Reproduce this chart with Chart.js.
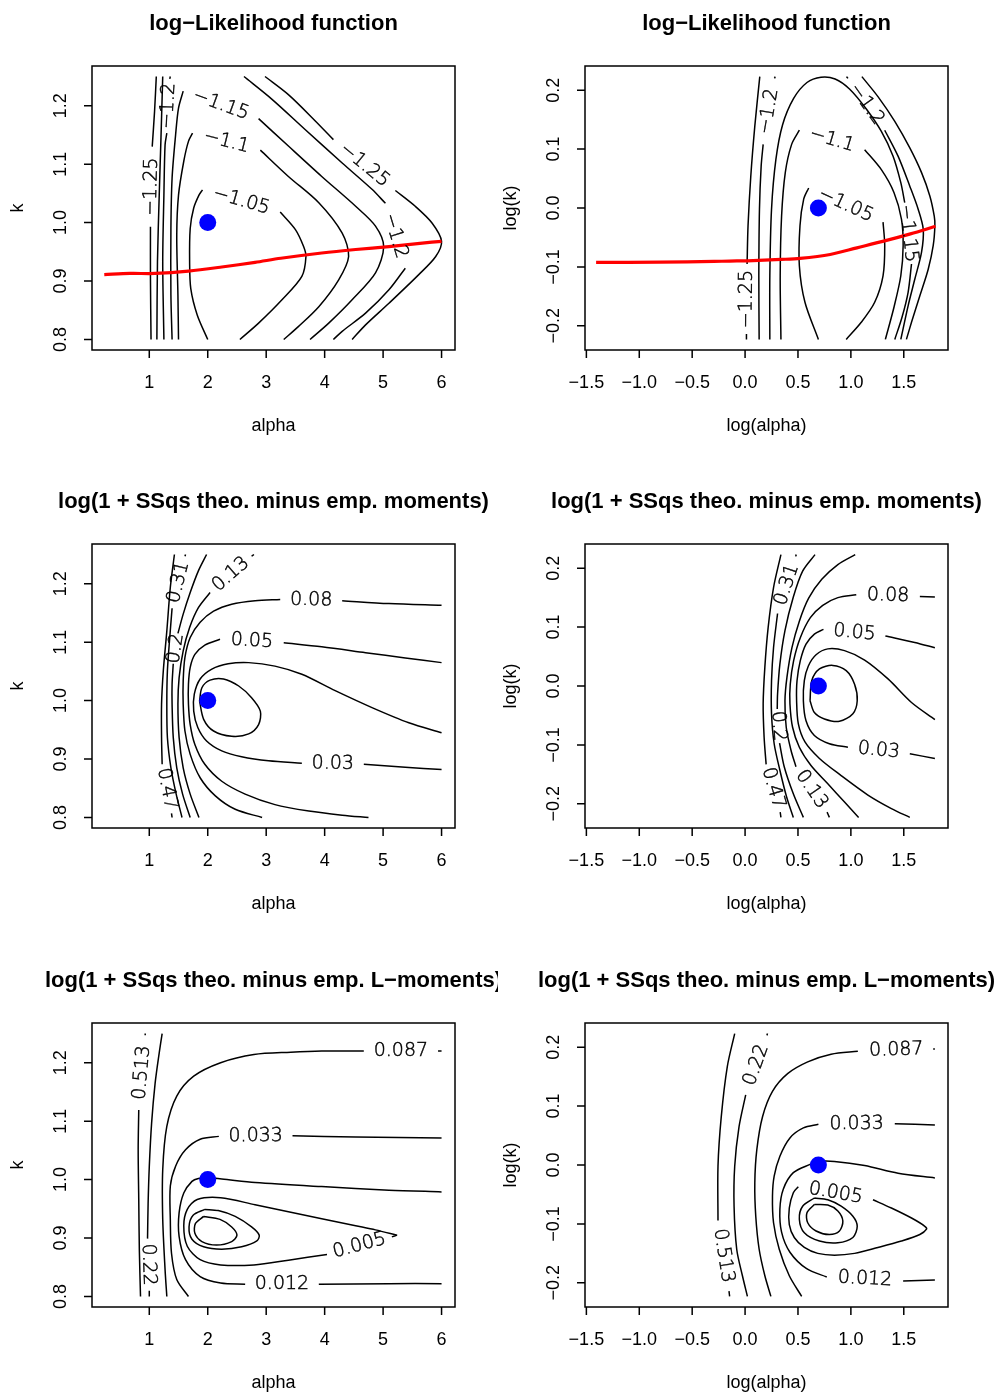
<!DOCTYPE html>
<html>
<head>
<meta charset="utf-8">
<script src="https://cdn.jsdelivr.net/npm/chart.js@4.4.1/dist/chart.umd.min.js"></script>
<style>
  html, body { margin: 0; padding: 0; background: #fff; overflow: hidden; }
  #wrap { position: relative; width: 996px; height: 1394px; }
  #wrap canvas { position: absolute; }
</style>
</head>
<body>
<div id="wrap"></div>
<script>
// axis ticks
const alphaTicks = [1, 2, 3, 4, 5, 6];
const kTicks = [0.8, 0.9, 1.0, 1.1, 1.2];
const logAlphaTicks = [-1.5, -1.0, -0.5, 0.0, 0.5, 1.0, 1.5];
const logKTicks = [-0.2, -0.1, 0.0, 0.1, 0.2];

// starting value (blue dot)
const startAlpha = 2, startK = 1;
const startLogAlpha = 0.693, startLogK = 0;

// profile curve (red)
const redAlpha = [0.23, 0.67, 1.10, 1.67, 2.24, 2.81, 3.25, 3.95, 4.53, 5.10, 5.67, 6.00];
const redK = [0.911, 0.913, 0.913, 0.917, 0.924, 0.932, 0.939, 0.948, 0.954, 0.959, 0.965, 0.968];
const redLogAlpha = [-1.408, -0.80, -0.294, -0.146, 0.022, 0.339, 0.519, 0.804, 1.057, 1.310, 1.563, 1.80];
const redLogK = [-0.0924, -0.092, -0.0907, -0.090, -0.0896, -0.0873, -0.0856, -0.0789, -0.0676, -0.0563, -0.0439, -0.031];

// contour lines: null marks where the level label sits
const llLevels = ['−1.25', '', '−1.2', '−1.15', '−1.1', '−1.05', '−1.2', '−1.25'];
const llLines = [
  [[1.03,0.80],[1.02,0.905],[1.02,0.993],null,[1.05,1.130],[1.09,1.190],[1.12,1.25]],
  [[1.13,0.80],[1.14,0.933],[1.17,1.047],[1.20,1.145],[1.23,1.25]],
  [[1.25,0.80],[1.23,0.933],[1.25,1.047],[1.27,1.133],[1.30,1.153],null,[1.35,1.246],[1.36,1.25]],
  [[1.39,0.80],[1.37,0.876],[1.37,0.990],[1.39,1.076],[1.45,1.150],[1.50,1.196],[1.58,1.225],null,[2.87,1.178],[3.38,1.131],[3.95,1.079],[4.53,1.028],[4.87,0.994],[5.01,0.959],[4.87,0.914],[4.47,0.868],[4.07,0.828],[3.75,0.80]],
  [[1.50,0.80],[1.49,0.876],[1.47,0.979],[1.50,1.047],[1.59,1.105],[1.67,1.139],[1.74,1.153],null,[2.90,1.124],[3.38,1.079],[3.90,1.034],[4.30,0.982],[4.41,0.942],[4.24,0.902],[3.90,0.856],[3.55,0.822],[3.30,0.80]],
  [[2.00,0.80],[1.82,0.842],[1.71,0.887],[1.69,0.933],[1.70,0.990],[1.76,1.025],[1.85,1.047],[1.91,1.056],null,[3.24,1.018],[3.50,0.988],[3.64,0.959],[3.68,0.942],[3.61,0.908],[3.27,0.868],[2.87,0.828],[2.55,0.80]],
  [[2.62,1.25],[3.10,1.211],[3.67,1.159],[4.30,1.102],[4.81,1.057],[5.04,1.033],null,[5.38,0.922],[5.10,0.885],[4.70,0.845],[4.30,0.814],[4.15,0.80]],
  [[2.98,1.25],[3.38,1.219],[3.84,1.174],[4.15,1.142],null,[5.21,1.055],[5.55,1.028],[5.84,0.999],[6.0,0.968],[5.90,0.942],[5.61,0.911],[5.10,0.862],[4.70,0.825],[4.47,0.80]]
];

const llLogLevels = ['−1.25', '−1.2', '−1.15', '−1.1', '−1.05', '−1.2', ''];
const llLogLines = [
  [[0.139,0.223],[0.092,0.139],[0.054,0.054],[0.028,-0.030],[0.019,-0.095],null,[0.013,-0.214],[0.013,-0.223]],
  [[0.133,-0.223],[0.130,-0.115],[0.136,-0.002],[0.152,0.071],[0.171,0.108],null,[0.278,0.220],[0.285,0.223]],
  [[0.234,-0.223],[0.234,-0.115],[0.250,-0.002],[0.291,0.082],[0.354,0.141],[0.459,0.186],[0.585,0.213],[0.718,0.222],[0.851,0.219],[0.987,0.202],[1.146,0.168],[1.288,0.130],[1.399,0.088],[1.472,0.043],[1.509,0.009],null,[1.573,-0.095],[1.541,-0.143],[1.484,-0.185],[1.415,-0.223]],
  [[0.339,-0.223],[0.332,-0.115],[0.345,-0.014],[0.380,0.060],[0.440,0.108],[0.513,0.132],null,[1.130,0.099],[1.288,0.065],[1.408,0.026],[1.478,-0.019],[1.494,-0.064],[1.472,-0.115],[1.408,-0.168],[1.326,-0.223]],
  [[0.693,-0.223],[0.566,-0.160],[0.513,-0.098],[0.519,-0.030],[0.554,0.015],[0.601,0.034],null,[1.304,-0.024],[1.320,-0.064],[1.304,-0.115],[1.225,-0.160],[1.098,-0.194],[0.956,-0.223]],
  [[0.959,0.223],[0.972,0.220],null,[1.320,0.132],[1.446,0.088],[1.557,0.037],[1.636,-0.002],[1.684,-0.036],[1.668,-0.075],[1.604,-0.121],[1.541,-0.166],[1.472,-0.223]],
  [[1.104,0.223],[1.256,0.189],[1.415,0.147],[1.557,0.102],[1.668,0.060],[1.747,0.020],[1.788,-0.014],[1.794,-0.030],[1.778,-0.064],[1.731,-0.104],[1.652,-0.149],[1.573,-0.194],[1.525,-0.223]]
];

const momLevels = ['0.47', '0.31', '0.2', '0.13', '0.08', '0.05', '0.03', ''];
const momLines = [
  [[1.43,1.25],[1.36,1.194],[1.30,1.119],[1.24,1.051],[1.21,0.994],[1.21,0.937],[1.22,0.891],null,[1.38,0.807],[1.39,0.80]],
  [[1.62,1.25],[1.61,1.247],null,[1.39,1.158],[1.35,1.108],[1.31,1.051],[1.30,0.994],[1.31,0.937],[1.37,0.885],[1.46,0.840],[1.56,0.80]],
  [[1.98,1.25],[1.84,1.222],[1.70,1.185],[1.58,1.148],[1.49,1.115],null,[1.41,1.063],[1.39,1.028],[1.39,0.994],[1.41,0.937],[1.47,0.885],[1.57,0.840],[1.70,0.80]],
  [[2.79,1.25],[2.75,1.247],null,[2.04,1.185],[1.84,1.159],[1.69,1.125],[1.58,1.085],[1.51,1.039],[1.49,0.994],[1.51,0.937],[1.58,0.885],[1.70,0.840],[1.85,0.80]],
  [[6.0,1.163],[5.10,1.166],[4.30,1.171],null,[3.24,1.173],[2.81,1.171],[2.41,1.165],[2.10,1.153],[1.87,1.134],[1.70,1.108],[1.61,1.074],[1.58,1.034],[1.58,0.994],[1.61,0.948],[1.70,0.908],[1.87,0.868],[2.13,0.837],[2.47,0.814],[2.93,0.80]],
  [[6.0,1.065],[5.38,1.073],[4.70,1.082],[3.95,1.092],[3.30,1.099],null,[2.21,1.105],[1.95,1.095],[1.78,1.079],[1.70,1.057],[1.67,1.028],[1.67,0.994],[1.70,0.959],[1.78,0.925],[1.95,0.891],[2.24,0.862],[2.64,0.840],[3.15,0.822],[3.73,0.811],[4.30,0.804],[4.75,0.80]],
  [[6.0,0.945],[5.44,0.962],[4.81,0.988],[4.18,1.017],[3.61,1.045],[3.15,1.059],[2.70,1.065],[2.35,1.063],[2.07,1.054],[1.87,1.037],[1.77,1.011],[1.76,0.982],[1.83,0.954],[1.98,0.931],[2.24,0.914],[2.58,0.904],[3.04,0.897],[3.61,0.893],null,[4.67,0.891],[5.38,0.886],[6.0,0.882]],
  [[1.86,0.999],[1.90,1.022],[2.04,1.035],[2.27,1.037],[2.53,1.025],[2.75,1.005],[2.90,0.982],[2.87,0.959],[2.70,0.943],[2.41,0.939],[2.10,0.948],[1.93,0.968],[1.86,0.999]]
];

const momLogLevels = ['0.47', '0.31', '0.2', '0.13', '0.08', '0.05', '0.03', ''];
const momLogLines = [
  [[0.339,0.223],[0.269,0.167],[0.218,0.099],[0.187,0.032],[0.171,-0.030],[0.180,-0.087],[0.199,-0.133],null,[0.332,-0.214],[0.339,-0.223]],
  [[0.478,0.223],[0.484,0.220],null,[0.307,0.123],[0.269,0.065],[0.250,0.009],[0.250,-0.047],[0.275,-0.098],[0.329,-0.143],[0.392,-0.188],[0.456,-0.223]],
  [[0.661,0.223],[0.544,0.195],[0.456,0.151],[0.377,0.094],[0.329,0.037],[0.307,-0.014],[0.304,-0.039],null,[0.326,-0.097],[0.370,-0.137],[0.456,-0.183],[0.551,-0.223]],
  [[1.041,0.223],[0.877,0.206],[0.725,0.181],[0.601,0.149],[0.513,0.110],[0.443,0.065],[0.396,0.015],[0.377,-0.025],[0.389,-0.070],[0.434,-0.109],[0.481,-0.137],null,[0.775,-0.214],[0.797,-0.223]],
  [[1.794,0.151],[1.652,0.152],null,[1.051,0.155],[0.877,0.150],[0.734,0.137],[0.617,0.116],[0.522,0.082],[0.459,0.043],[0.427,0.003],[0.424,-0.030],[0.449,-0.070],[0.513,-0.104],[0.623,-0.135],[0.782,-0.166],[0.940,-0.197],[1.073,-0.223]],
  [[1.794,0.065],[1.604,0.074],[1.326,0.085],null,[0.741,0.096],[0.655,0.088],[0.576,0.071],[0.522,0.043],[0.491,0.009],[0.487,-0.025],[0.503,-0.064],[0.566,-0.095],[0.703,-0.123],[0.908,-0.152],[1.161,-0.185],[1.383,-0.208],[1.557,-0.223]],
  [[1.794,-0.057],[1.573,-0.028],[1.351,0.012],[1.130,0.044],[0.940,0.060],[0.782,0.063],[0.671,0.053],[0.598,0.034],[0.560,0.009],[0.551,-0.025],[0.576,-0.059],[0.655,-0.084],[0.797,-0.098],[0.972,-0.104],null,[1.557,-0.115],[1.794,-0.123]],
  [[0.614,-0.025],[0.630,0.009],[0.703,0.029],[0.829,0.035],[0.956,0.026],[1.035,0.003],[1.060,-0.025],[1.019,-0.047],[0.892,-0.060],[0.750,-0.056],[0.655,-0.045],[0.614,-0.025]]
];

const lmomLevels = ['0.513', '0.22', '0.087', '0.033', '0.012', '0.005', '', ''];
const lmomLines = [
  [[0.93,1.25],[0.93,1.247],null,[0.82,1.119],[0.81,1.051],[0.82,0.965],[0.83,0.879],[0.85,0.80]],
  [[1.22,1.25],[1.17,1.217],[1.10,1.165],[1.04,1.097],[1.00,1.022],[0.98,0.959],[0.97,0.899],null,[1.00,0.810],[1.00,0.80]],
  [[1.30,0.80],[1.27,0.846],[1.23,0.932],[1.23,1.017],[1.30,1.091],[1.47,1.143],[1.76,1.177],[2.22,1.200],[2.79,1.214],[3.42,1.218],[3.95,1.220],[4.67,1.220],null,[5.94,1.220],[6.0,1.220]],
  [[6.0,1.071],[4.53,1.073],[3.45,1.075],null,[2.19,1.074],[1.87,1.069],[1.62,1.051],[1.45,1.023],[1.36,0.989],[1.36,0.931],[1.38,0.874],[1.47,0.829],[1.67,0.80]],
  [[6.0,0.979],[5.10,0.982],[3.95,0.988],[2.81,0.995],[2.24,1.001],[1.99,1.003],[1.84,1.002],[1.73,0.997],[1.59,0.977],[1.51,0.943],[1.51,0.903],[1.62,0.863],[1.87,0.834],[2.22,0.823],[2.64,0.821],null,[3.90,0.821],[5.10,0.822],[6.0,0.822]],
  [[5.24,0.905],[4.87,0.914],[4.53,0.921],[3.95,0.933],[3.38,0.945],[2.81,0.957],[2.22,0.969],[1.82,0.966],[1.65,0.949],[1.59,0.921],[1.65,0.886],[1.87,0.863],[2.22,0.854],[2.79,0.854],[3.38,0.862],[4.04,0.872],null,[5.15,0.902],[5.24,0.905]],
  [[1.95,0.949],[1.75,0.939],[1.68,0.919],[1.73,0.898],[1.93,0.885],[2.24,0.881],[2.58,0.885],[2.84,0.895],[2.88,0.905],[2.75,0.919],[2.47,0.937],[2.18,0.947],[1.95,0.949]],
  [[1.93,0.937],[1.79,0.925],[1.78,0.908],[1.90,0.894],[2.15,0.888],[2.41,0.894],[2.50,0.905],[2.41,0.919],[2.21,0.932],[1.93,0.937]]
];

const lmomLogLevels = ['0.513', '0.22', '0.087', '0.033', '0.012', '0.005', '', ''];
const lmomLogLines = [
  [[-0.098,0.223],[-0.168,0.167],[-0.225,0.082],[-0.256,-0.002],[-0.256,-0.094],null,[-0.152,-0.214],[-0.146,-0.223]],
  [[0.212,0.223],[0.206,0.220],null,[0.006,0.119],[-0.057,0.065],[-0.098,-0.002],[-0.104,-0.070],[-0.079,-0.143],[-0.025,-0.188],[0.022,-0.223]],
  [[1.778,0.197],[1.794,0.197],null,[1.066,0.193],[0.813,0.188],[0.592,0.175],[0.402,0.155],[0.259,0.125],[0.165,0.082],[0.111,0.026],[0.092,-0.030],[0.101,-0.087],[0.133,-0.143],[0.187,-0.188],[0.244,-0.223]],
  [[1.794,0.068],[1.415,0.070],null,[0.693,0.069],[0.551,0.063],[0.424,0.046],[0.329,0.015],[0.275,-0.019],[0.259,-0.053],[0.269,-0.098],[0.323,-0.143],[0.418,-0.188],[0.535,-0.223]],
  [[1.794,-0.022],[1.446,-0.014],[1.130,-0.001],[0.845,0.006],[0.693,0.006],[0.614,0.001],[0.456,-0.013],[0.361,-0.041],[0.329,-0.075],[0.345,-0.114],[0.424,-0.148],[0.582,-0.176],[0.772,-0.190],null,[1.494,-0.197],[1.794,-0.195]],
  [[1.209,-0.059],[1.383,-0.073],[1.573,-0.090],[1.699,-0.104],[1.715,-0.109],[1.652,-0.118],[1.478,-0.129],[1.256,-0.140],[1.035,-0.150],[0.845,-0.153],[0.687,-0.150],[0.560,-0.140],[0.465,-0.123],[0.418,-0.101],[0.418,-0.073],[0.456,-0.047],[0.503,-0.037],null,[1.209,-0.059]],
  [[0.655,-0.056],[0.544,-0.070],[0.513,-0.092],[0.560,-0.115],[0.703,-0.129],[0.877,-0.132],[1.019,-0.123],[1.060,-0.104],[1.019,-0.087],[0.908,-0.070],[0.782,-0.059],[0.655,-0.056]],
  [[0.655,-0.067],[0.585,-0.081],[0.592,-0.098],[0.671,-0.112],[0.797,-0.118],[0.892,-0.112],[0.924,-0.095],[0.877,-0.078],[0.782,-0.068],[0.655,-0.067]]
];

const titleLL = 'log−Likelihood function';
const titleMom = 'log(1 + SSqs theo. minus emp. moments)';
const titleLmom = 'log(1 + SSqs theo. minus emp. L−moments)';

const alphaRange = [0.02, 6.23], kRange = [0.782, 1.268];
const logAlphaRange = [-1.513, 1.918], logKRange = [-0.241, 0.241];

const panels = [
  { title: titleLL, log: false, levels: llLevels, lines: llLines, red: true },
  { title: titleLL, log: true, levels: llLogLevels, lines: llLogLines, red: true },
  { title: titleMom, log: false, levels: momLevels, lines: momLines },
  { title: titleMom, log: true, levels: momLogLevels, lines: momLogLines },
  { title: titleLmom, log: false, levels: lmomLevels, lines: lmomLines },
  { title: titleLmom, log: true, levels: lmomLogLevels, lines: lmomLogLines }
];

const PANEL_W = 498, PANEL_H = 478;
const ROW_TOP = [0, 478, 957];
const BOX_W = 363, BOX_H = 284, BOX_TOP = 66;
const TICK = 8;
const AXIS_FONT = '18px "Liberation Sans", Arial, sans-serif';
const TITLE_FONT = 'bold 22px "Liberation Sans", Arial, sans-serif';
const LEVEL_FONT = '200 19px "DejaVu Sans", sans-serif';

const fmtTick = (v, dec) => v.toFixed(dec).replace('-', '−');

// R-style frame: box, outward ticks, rotated y labels, titles
function makeFrame(p) {
  return {
    id: 'rFrame',
    afterDraw(chart) {
      const { ctx, chartArea: a, scales: { x, y } } = chart;
      const xt = p.log ? logAlphaTicks : alphaTicks;
      const yt = p.log ? logKTicks : kTicks;
      const xdec = p.log ? 1 : 0;
      ctx.save();
      ctx.strokeStyle = '#000';
      ctx.lineWidth = 1.5;
      ctx.strokeRect(a.left, a.top, a.right - a.left, a.bottom - a.top);
      ctx.beginPath();
      xt.forEach(v => {
        const px = x.getPixelForValue(v);
        ctx.moveTo(px, a.bottom);
        ctx.lineTo(px, a.bottom + TICK);
      });
      yt.forEach(v => {
        const py = y.getPixelForValue(v);
        ctx.moveTo(a.left, py);
        ctx.lineTo(a.left - TICK, py);
      });
      ctx.stroke();

      ctx.fillStyle = '#000';
      ctx.font = AXIS_FONT;
      ctx.textAlign = 'center';
      ctx.textBaseline = 'middle';
      xt.forEach(v => ctx.fillText(fmtTick(v, xdec), x.getPixelForValue(v), a.bottom + 33));
      yt.forEach(v => {
        ctx.save();
        ctx.translate(a.left - 31, y.getPixelForValue(v));
        ctx.rotate(-Math.PI / 2);
        ctx.fillText(fmtTick(v, 1), 0, 0);
        ctx.restore();
      });
      ctx.fillText(p.log ? 'log(alpha)' : 'alpha', (a.left + a.right) / 2, a.bottom + 76);
      ctx.save();
      ctx.translate(a.left - 74, (a.top + a.bottom) / 2);
      ctx.rotate(-Math.PI / 2);
      ctx.fillText(p.log ? 'log(k)' : 'k', 0, 0);
      ctx.restore();

      ctx.font = TITLE_FONT;
      ctx.fillText(p.title, (a.left + a.right) / 2, 24);
      ctx.restore();
    }
  };
}

// level labels go into the gaps of each contour, turned along the line
const contourLabels = {
  id: 'contourLabels',
  afterDatasetsDraw(chart) {
    const { ctx, scales: { x, y } } = chart;
    ctx.save();
    ctx.font = LEVEL_FONT;
    ctx.fillStyle = '#000';
    ctx.strokeStyle = '#000';
    ctx.lineWidth = 0.45;
    ctx.textAlign = 'center';
    ctx.textBaseline = 'middle';
    chart.data.datasets.forEach(ds => {
      if (!ds.levelText) return;
      const d = ds.data;
      for (let i = 1; i < d.length - 1; i++) {
        if (d[i].x !== null) continue;
        const ax = x.getPixelForValue(d[i - 1].x), ay = y.getPixelForValue(d[i - 1].y);
        const bx = x.getPixelForValue(d[i + 1].x), by = y.getPixelForValue(d[i + 1].y);
        let ang = Math.atan2(by - ay, bx - ax);
        if (ang > Math.PI / 2) ang -= Math.PI;
        else if (ang <= -Math.PI / 2) ang += Math.PI;
        ctx.save();
        ctx.translate((ax + bx) / 2, (ay + by) / 2);
        ctx.rotate(ang);
        ctx.fillText(ds.levelText, 0, 0);
        ctx.strokeText(ds.levelText, 0, 0);
        ctx.restore();
      }
    });
    ctx.restore();
  }
};

const wrap = document.getElementById('wrap');

panels.forEach((p, i) => {
  const cv = document.createElement('canvas');
  cv.width = PANEL_W;
  cv.height = PANEL_H;
  cv.style.left = (i % 2) * PANEL_W + 'px';
  cv.style.top = ROW_TOP[Math.floor(i / 2)] + 'px';
  wrap.appendChild(cv);

  const boxLeft = p.log ? 87 : 92;
  const datasets = [];
  datasets.push({
    data: [p.log ? { x: startLogAlpha, y: startLogK } : { x: startAlpha, y: startK }],
    showLine: false,
    pointRadius: 8.5,
    pointBackgroundColor: '#0000ff',
    pointBorderWidth: 0
  });
  if (p.red) {
    const xs = p.log ? redLogAlpha : redAlpha;
    const ys = p.log ? redLogK : redK;
    datasets.push({
      data: xs.map((v, j) => ({ x: v, y: ys[j] })),
      showLine: true,
      borderColor: '#ff0000',
      borderWidth: 3.2,
      pointRadius: 0,
      tension: 0.3
    });
  }
  p.lines.forEach((pts, j) => {
    datasets.push({
      data: pts.map(q => q ? { x: q[0], y: q[1] } : { x: null, y: null }),
      levelText: p.levels[j],
      showLine: true,
      spanGaps: false,
      borderColor: '#000',
      borderWidth: 1.5,
      pointRadius: 0,
      tension: 0.3
    });
  });

  const xr = p.log ? logAlphaRange : alphaRange;
  const yr = p.log ? logKRange : kRange;

  new Chart(cv, {
    type: 'scatter',
    data: { datasets },
    options: {
      responsive: false,
      animation: false,
      devicePixelRatio: 1,
      events: [],
      layout: {
        padding: { left: boxLeft, right: PANEL_W - boxLeft - BOX_W, top: BOX_TOP, bottom: PANEL_H - BOX_TOP - BOX_H }
      },
      plugins: { legend: { display: false }, tooltip: { enabled: false }, title: { display: false } },
      scales: {
        x: { type: 'linear', min: xr[0], max: xr[1], display: false },
        y: { type: 'linear', min: yr[0], max: yr[1], display: false }
      }
    },
    plugins: [makeFrame(p), contourLabels]
  });
});
</script>
</body>
</html>
